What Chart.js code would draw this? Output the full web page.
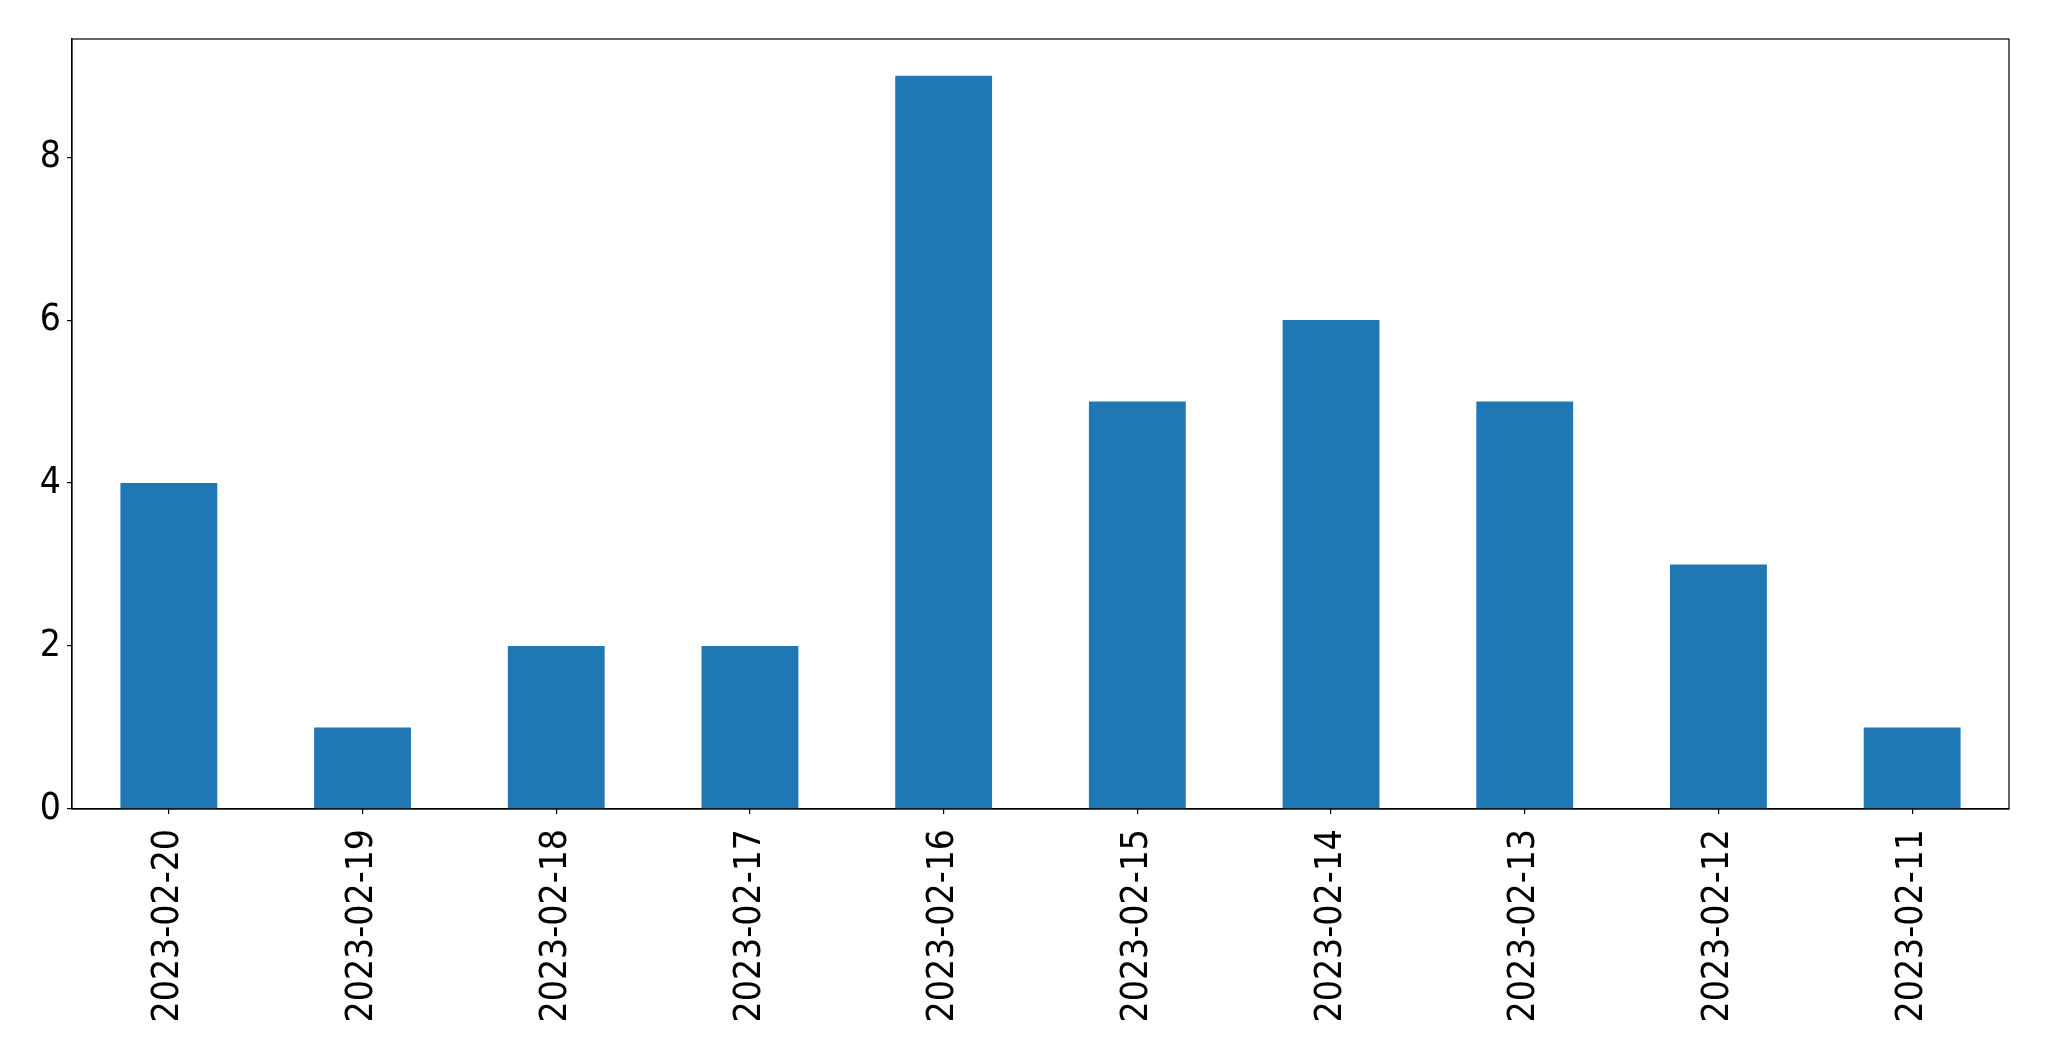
<!DOCTYPE html>
<html>
<head>
<meta charset="utf-8">
<script src="https://cdn.jsdelivr.net/npm/chart.js@4/dist/chart.umd.min.js"></script>
<style>
html,body{margin:0;padding:0;background:#fff;}
#c{display:block;}
</style>
</head>
<body>
<canvas id="c" width="2049" height="1061"></canvas>
<script>
const categories = ['2023-02-20','2023-02-19','2023-02-18','2023-02-17','2023-02-16','2023-02-15','2023-02-14','2023-02-13','2023-02-12','2023-02-11'];
const counts = [4, 1, 2, 2, 9, 5, 6, 5, 3, 1];
const yTicks = [0, 2, 4, 6, 8];
const yMax = 9.45;

const FONT = '"DejaVu Sans Condensed", "DejaVu Sans"';
const FS = 37;

const framePlugin = {
  id: 'frame',
  afterDraw(chart) {
    const a = chart.chartArea, ctx = chart.ctx;
    ctx.save();
    ctx.strokeStyle = '#000';
    ctx.lineWidth = 1.2;
    ctx.strokeRect(a.left, a.top, a.right - a.left, a.bottom - a.top);
    ctx.restore();
  }
};

new Chart(document.getElementById('c'), {
  type: 'bar',
  data: {
    labels: categories,
    datasets: [{
      data: counts,
      backgroundColor: '#1f77b4',
      borderWidth: 0,
      barPercentage: 0.5,
      categoryPercentage: 1.0
    }]
  },
  options: {
    responsive: false,
    animation: false,
    devicePixelRatio: 1,
    layout: { padding: { left: 0, top: 39, right: 40, bottom: 0 } },
    plugins: { legend: { display: false }, tooltip: { enabled: false } },
    scales: {
      x: {
        offset: true,
        grid: { display: true, offset: false, drawOnChartArea: false, drawTicks: true, tickLength: 5, color: '#000', lineWidth: 1.2 },
        border: { display: true, color: '#000', width: 1.2 },
        ticks: { color: '#000', font: { family: FONT, size: FS }, minRotation: 90, maxRotation: 90, padding: 15, autoSkip: false },
        afterFit(scale) { scale.height = 252; }
      },
      y: {
        min: 0,
        max: yMax,
        grid: { display: true, drawOnChartArea: false, drawTicks: true, tickLength: 5, color: '#000', lineWidth: 1.2 },
        border: { display: true, color: '#000', width: 1.2 },
        ticks: { color: '#000', font: { family: FONT, size: FS }, padding: 6 },
        afterBuildTicks(scale) { scale.ticks = yTicks.map(v => ({ value: v })); },
        afterFit(scale) { scale.width = 72; }
      }
    }
  },
  plugins: [framePlugin]
});
</script>
</body>
</html>
